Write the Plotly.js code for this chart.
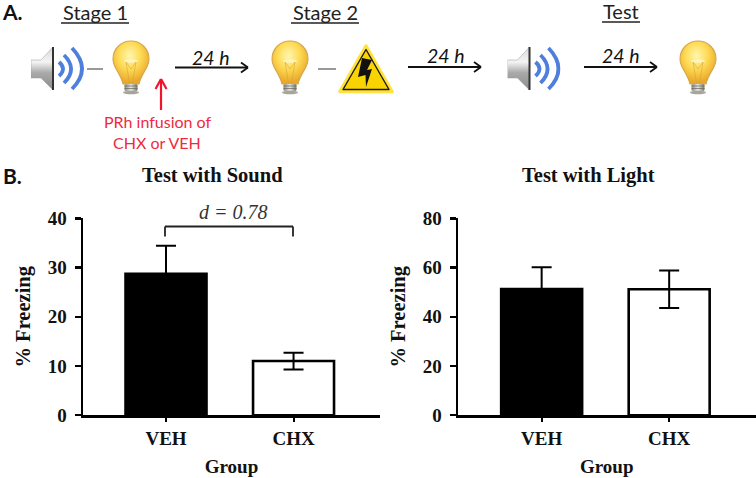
<!DOCTYPE html>
<html>
<head>
<meta charset="utf-8">
<script src="https://cdn.plot.ly/plotly-3.0.0.min.js"></script>
<style>html,body{margin:0;padding:0;background:#fff}#chart{width:756px;height:478px}</style>
</head>
<body>
<div id="chart"></div>
<script>
// ---- chart data ----
const groups = ['VEH', 'CHX'];
const soundValues = [28.7, 11];
const soundErrors = [5.7, 1.7];
const lightValues = [51.3, 51.2];
const lightErrors = [8.8, 7.6];
const soundTicks = [0, 10, 20, 30, 40];
const lightTicks = [0, 20, 40, 60, 80];
const barFills = ['#000000', '#ffffff'];
const timeLabel = '24 h';

const W = 756, H = 478;
const px = x => x / W;
const py = y => 1 - y / H;
const serif = '"Liberation Serif", serif';
const sans = 'Lato, "Open Sans", sans-serif';

// ---- decorative icons ----
function uri(svg){ return 'data:image/svg+xml;charset=utf-8,' + encodeURIComponent(svg); }
const bulbSvg = `<svg xmlns="http://www.w3.org/2000/svg" viewBox="0 0 38 55" width="152" height="220">
<defs>
<radialGradient id="g" cx="46%" cy="34%" r="62%"><stop offset="0" stop-color="#fff6b0"/><stop offset="0.5" stop-color="#fedb55"/><stop offset="1" stop-color="#e9a82a"/></radialGradient>
<linearGradient id="m" x1="0" x2="1" y1="0" y2="0"><stop offset="0" stop-color="#8a8a80"/><stop offset="0.5" stop-color="#e8e8e0"/><stop offset="1" stop-color="#77776d"/></linearGradient>
</defs>
<path d="M19 1 C29 1 37 9 37 19 C37 28 29.500 33 27 44 L11 44 C8.500 33 1 28 1 19 C1 9 9 1 19 1 Z" fill="url(#g)" stroke="#d6a548" stroke-width="1.100"/>
<ellipse cx="19" cy="21" rx="7" ry="1.800" fill="#fff6c8" opacity="0.8"/>
<path d="M14 22 L17.500 43 M24 22 L20.500 43 M14 22 L19 29 L24 22" fill="none" stroke="#cf9c3a" stroke-width="0.500"/>
<rect x="12.500" y="44" width="13" height="7" rx="1.500" fill="url(#m)"/>
<path d="M12.500 46 H25.500 M12.500 48.500 H25.500" stroke="#66665c" stroke-width="0.700"/>
<ellipse cx="19" cy="52.500" rx="8" ry="1.800" fill="#a5a59c"/>
</svg>`;
const speakerSvg = `<svg xmlns="http://www.w3.org/2000/svg" viewBox="0 0 53 46" width="212" height="184">
<defs><linearGradient id="c" x1="0" x2="0" y1="0" y2="1"><stop offset="0" stop-color="#d9d9d9"/><stop offset="0.35" stop-color="#f4f4f4"/><stop offset="0.6" stop-color="#a9a9a9"/><stop offset="1" stop-color="#8c8c8c"/></linearGradient></defs>
<path d="M0 14 L10 14 L22 1 L22 44 L10 32 L0 32 Z" fill="url(#c)" stroke="#9a9a9a" stroke-width="0.500"/>
<rect x="21" y="1" width="2" height="43" fill="#333"/>
<g fill="none" stroke="#4f7fdc" stroke-width="3.800">
<path d="M28 16 Q36 23 28 30"/>
<path d="M33 9 Q47 23 33 37"/>
<path d="M41 2 Q61 23 41 43"/>
</g></svg>`;
const warnSvg = `<svg xmlns="http://www.w3.org/2000/svg" viewBox="0 0 56 50" width="224" height="200">
<path d="M28 2 L54 47.500 L2 47.500 Z" fill="#ffd91a" stroke="#ffe23c" stroke-width="3.500" stroke-linejoin="round"/>
<path d="M28 5.500 L51 45.500 L5 45.500 Z" fill="#fad400" stroke="#1a1a1a" stroke-width="1.400" stroke-linejoin="round"/>
<path d="M24 14 L34 16 L29 26 L34 25 L28 43 L27.500 31 L20 33 Z" fill="#111"/>
</svg>`;
function img(src, x0, y0, x1, y1){
  return {source: uri(src), xref:'paper', yref:'paper', x:px(x0), y:py(y0),
          sizex:(x1-x0)/W, sizey:(y1-y0)/H, xanchor:'left', yanchor:'top', sizing:'stretch', layer:'above'};
}
const images = [
  img(speakerSvg, 31, 46, 84, 92),
  img(bulbSvg, 112, 40, 150, 95),
  img(bulbSvg, 271, 40, 309, 95),
  img(warnSvg, 338, 44, 394, 94),
  img(speakerSvg, 507.500, 46, 560.500, 92),
  img(bulbSvg, 679, 40, 717, 95)
];

// ---- decoration helpers ----
function line(x0, y0, x1, y1, color, width){
  return {type:'line', xref:'paper', yref:'paper', x0:px(x0), y0:py(y0), x1:px(x1), y1:py(y1),
          line:{color:color, width:width}};
}
function arrow(x0, x1, y){
  return [line(x0, y, x1, y, '#111', 1.800),
          line(x1-7, y-5, x1, y, '#111', 1.800),
          line(x1-7, y+5, x1, y, '#111', 1.800)];
}
function label(text, x, y, size, family, color, extra){
  return Object.assign({text:text, xref:'paper', yref:'paper', x:px(x), y:py(y), showarrow:false,
    xanchor:'center', yanchor:'middle', font:{size:size, family:family, color:color}}, extra||{});
}
const shapes = [
  line(61, 23, 129, 23, '#222', 1.500),
  line(291, 23, 359, 23, '#222', 1.500),
  line(602, 22, 640, 22, '#222', 1.500),
  line(87, 69, 103, 69, '#777', 1.500),
  line(318, 69, 336, 69, '#777', 1.500),
  ...arrow(175, 248, 67.500),
  ...arrow(408, 481, 67),
  ...arrow(584, 657, 67),
  line(161, 110, 161, 79, '#f0142d', 2.200),
  line(155.500, 89, 161, 79, '#f0142d', 2.200),
  line(166.500, 89, 161, 79, '#f0142d', 2.200),
  // comparison bracket
  line(165, 236.500, 165, 226.500, '#222', 1.800),
  line(165, 226.500, 293, 226.500, '#222', 1.800),
  line(293, 226.500, 293, 236.500, '#222', 1.800)
];
const annotations = [
  label('<b>A.</b>', 12, 12, 21, sans, '#111'),
  label('<b>B.</b>', 12, 175, 21, sans, '#111'),
  label('Stage 1', 95, 12, 20, sans, '#222'),
  label('Stage 2', 325, 12, 20, sans, '#222'),
  label('Test', 621, 11, 20, sans, '#222'),
  label('<i>'+timeLabel+'</i>', 211, 57, 19.500, sans, '#111'),
  label('<i>'+timeLabel+'</i>', 445.700, 56, 19.500, sans, '#111'),
  label('<i>'+timeLabel+'</i>', 620.700, 56, 19.500, sans, '#111'),
  label('PRh infusion of', 157, 122, 16, sans, '#ee2b40'),
  label('CHX or VEH', 157, 143, 16, sans, '#ee2b40'),
  label('<b>Test with Sound</b>', 212, 175, 20.500, serif, '#111'),
  label('<b>Test with Light</b>', 588.500, 175, 20.500, serif, '#111'),
  label('<i>d = 0.78</i>', 233, 212, 20, serif, '#333')
];

// ---- plots ----
function bars(values, errors, xa, ya){
  return {type:'bar', x:groups, y:values, xaxis:xa, yaxis:ya, width:0.635,
    marker:{color:barFills, line:{color:'#000', width:2.600}},
    error_y:{type:'data', array:errors, visible:true, color:'#000', thickness:2, width:10},
    showlegend:false, hoverinfo:'x+y'};
}
function xAxis(d0, d1, r0, r1, anchor){
  return {domain:[px(d0), px(d1)], range:[r0, r1], type:'category', anchor:anchor, showline:true, linecolor:'#000',
    linewidth:2.500, ticks:'outside', ticklen:4, tickwidth:2, tickcolor:'#000', showgrid:false, zeroline:false,
    tickfont:{family:serif, size:19, color:'#111', weight:700},
    title:{text:'<b>Group</b>', font:{family:serif, size:19, color:'#111'}, standoff:12}};
}
function yAxis(ticks, top, anchor){
  return {domain:[py(415.200), py(218.300)], range:[0, top], anchor:anchor, tickvals:ticks, showline:true, linecolor:'#000',
    linewidth:2.500, ticks:'outside', ticklen:6, tickwidth:2.500, tickcolor:'#000', showgrid:false, zeroline:false,
    ticklabelstandoff:4,
    tickfont:{family:serif, size:19, color:'#111', weight:700},
    title:{text:'<b>% Freezing</b>', font:{family:serif, size:20.500, color:'#111'}, standoff:12}};
}
const layout = {
  width:W, height:H, margin:{l:0, r:0, t:0, b:0}, paper_bgcolor:'#fff', plot_bgcolor:'rgba(0,0,0,0)',
  xaxis:xAxis(83, 380, -0.651, 1.678, 'y'),
  yaxis:yAxis(soundTicks, 40, 'x'),
  xaxis2:xAxis(458, 755.500, -0.656, 1.677, 'y2'),
  yaxis2:yAxis(lightTicks, 80, 'x2'),
  shapes:shapes, annotations:annotations, images:images
};
Plotly.newPlot('chart', [bars(soundValues, soundErrors, 'x', 'y'), bars(lightValues, lightErrors, 'x2', 'y2')], layout, {displayModeBar:false, staticPlot:true});
</script>
</body>
</html>
